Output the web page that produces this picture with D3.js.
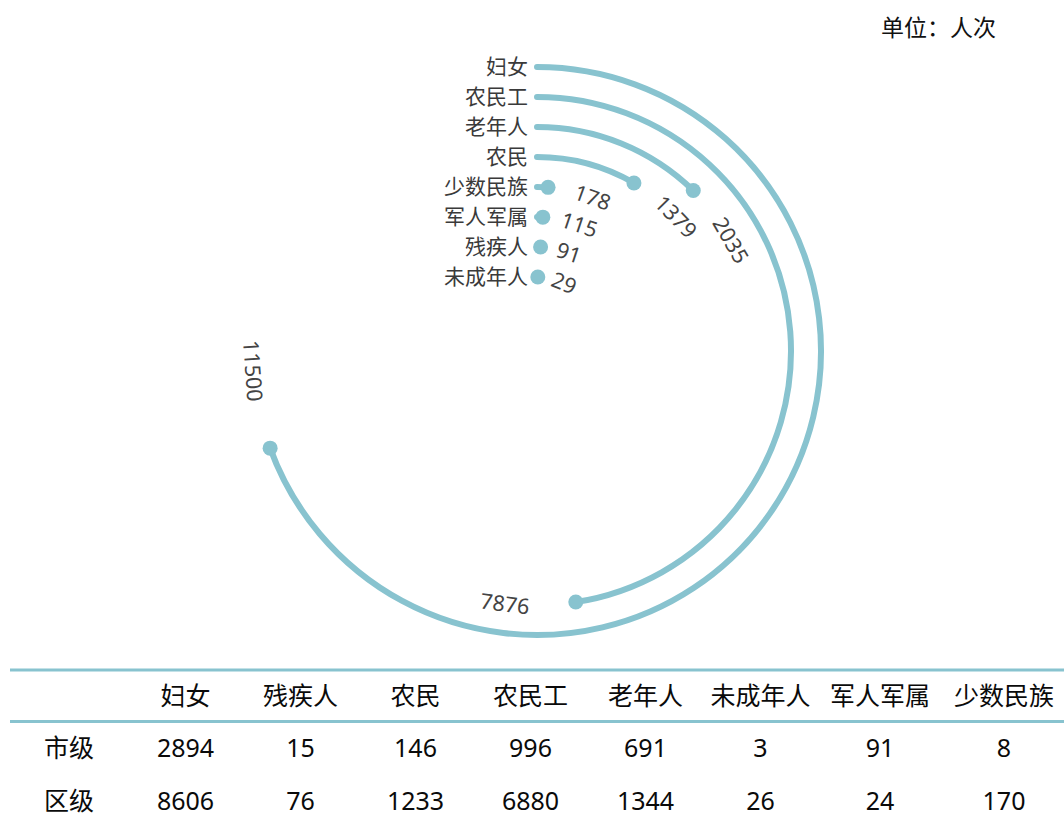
<!DOCTYPE html>
<html>
<head>
<meta charset="utf-8">
<script src="https://cdn.jsdelivr.net/npm/d3@7"></script>
<style>
  html, body { margin: 0; padding: 0; background: #fff; }
  svg { display: block; font-family: "Noto Sans", "Noto Sans CJK SC", sans-serif; }
</style>
</head>
<body>
<svg id="chart" width="1064" height="819"></svg>
<script>
// Service counts by group: city level and district level
const categories = ["妇女", "残疾人", "农民", "农民工", "老年人", "未成年人", "军人军属", "少数民族"];
const cityValues = [2894, 15, 146, 996, 691, 3, 91, 8];
const districtValues = [8606, 76, 1233, 6880, 1344, 26, 24, 170];
const rowLabels = ["市级", "区级"];
const unitLabel = "单位：人次";

const color = "#88c3cf";
const svg = d3.select("#chart");

// totals per group, largest on the outermost ring
const totals = categories.map((c, i) => ({ name: c, value: cityValues[i] + districtValues[i] }))
  .sort((a, b) => b.value - a.value);

const cx = 537, cy = 351;
const toRad = Math.PI / 180;

const angle = d3.scaleLinear()
  .domain([0, d3.max(totals, d => d.value)])
  .range([0, 250]);               // degrees, clockwise from 12 o'clock

const radius = d3.scalePoint()
  .domain(totals.map(d => d.name))
  .range([284, 74]);

const g = svg.append("g").attr("transform", `translate(${cx},${cy})`);

function polar(r, deg) {
  return [r * Math.sin(deg * toRad), -r * Math.cos(deg * toRad)];
}

// arcs
totals.forEach(d => {
  const r = radius(d.name);
  const a = angle(d.value);
  const p = d3.path();
  p.arc(0, 0, r, -Math.PI / 2, -Math.PI / 2 + a * toRad);
  g.append("path")
    .attr("d", p.toString())
    .attr("fill", "none")
    .attr("stroke", color)
    .attr("stroke-width", 6)
    .attr("stroke-linecap", "round");
  const [ex, ey] = polar(r, a);
  g.append("circle").attr("cx", ex).attr("cy", ey).attr("r", 7.5).attr("fill", color);
});

// category names at the start of each ring
g.selectAll("text.cat")
  .data(totals)
  .join("text")
  .attr("class", "cat")
  .attr("x", -9)
  .attr("y", d => -radius(d.name))
  .attr("dy", "0.35em")
  .attr("text-anchor", "end")
  .attr("font-size", 21)
  .attr("fill", "#3a3a3a")
  .text(d => d.name);

// value labels following the end of each ring
totals.forEach(d => {
  const r = radius(d.name);
  const a = angle(d.value);
  const t = g.append("text")
    .attr("text-anchor", "middle")
    .attr("dominant-baseline", "central")
    .attr("font-size", 21.5)
    .attr("fill", "#444")
    .text(d.value);
  const w = t.node().getComputedTextLength();
  const dist = Math.max(r * 16 * toRad, 15 + w / 2);
  const la = a + dist / r / toRad;
  const [lx, ly] = polar(r, la);
  let rot = la;
  if (la > 90 && la < 270) rot = la - 180;
  else if (la >= 270) rot = la - 360;
  t.attr("transform", `translate(${lx},${ly}) rotate(${rot})`);
});

// unit
svg.append("text")
  .attr("x", 996).attr("y", 28)
  .attr("dy", "0.35em")
  .attr("text-anchor", "end")
  .attr("font-size", 23)
  .attr("fill", "#111")
  .text(unitLabel);

// table
const colWidths = [118, 115, 115, 115, 115, 115, 115, 124, 124];
const colEdges = [10];
colWidths.forEach(w => colEdges.push(colEdges[colEdges.length - 1] + w));
const colCenter = i => (colEdges[i] + colEdges[i + 1]) / 2;

const table = svg.append("g").attr("font-size", 25).attr("fill", "#0a0a0a");

table.append("line").attr("x1", 10).attr("x2", 1064).attr("y1", 670).attr("y2", 670)
  .attr("stroke", color).attr("stroke-width", 3);
table.append("line").attr("x1", 10).attr("x2", 1064).attr("y1", 721.5).attr("y2", 721.5)
  .attr("stroke", color).attr("stroke-width", 3);

table.selectAll("text.head")
  .data(categories)
  .join("text")
  .attr("class", "head")
  .attr("x", (d, i) => colCenter(i + 1))
  .attr("y", 696)
  .attr("dy", "0.35em")
  .attr("text-anchor", "middle")
  .text(d => d);

const rows = [cityValues, districtValues];
const rowY = [748, 801];
rows.forEach((vals, ri) => {
  table.append("text")
    .attr("x", colCenter(0)).attr("y", rowY[ri]).attr("dy", "0.35em")
    .attr("text-anchor", "middle")
    .text(rowLabels[ri]);
  table.selectAll(`text.r${ri}`)
    .data(vals)
    .join("text")
    .attr("class", `r${ri}`)
    .attr("x", (d, i) => colCenter(i + 1))
    .attr("y", rowY[ri])
    .attr("dy", "0.35em")
    .attr("text-anchor", "middle")
    .text(d => d);
});
</script>
</body>
</html>
